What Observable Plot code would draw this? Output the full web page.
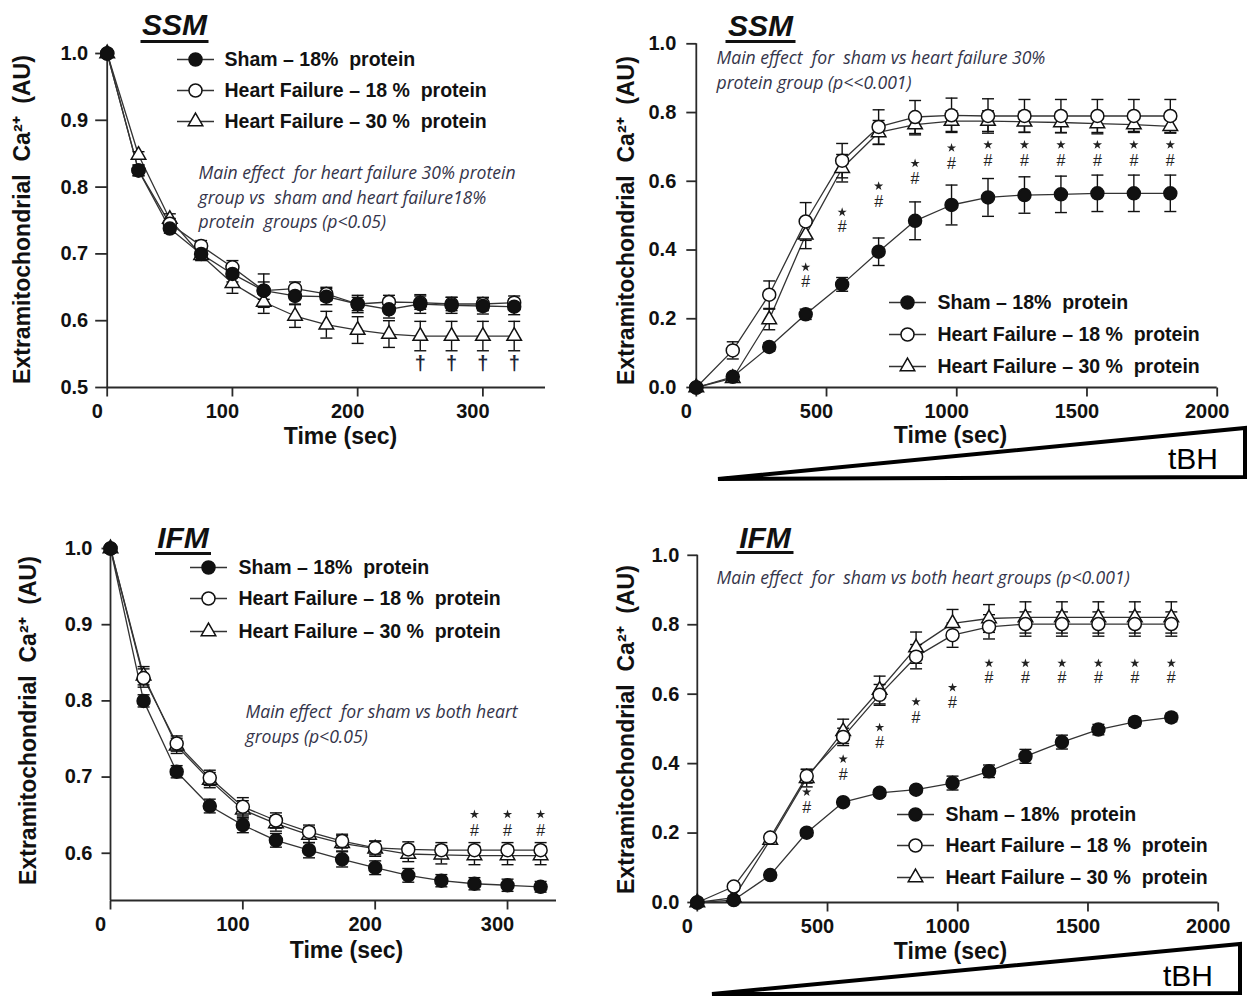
<!DOCTYPE html>
<html>
<head>
<meta charset="utf-8">
<script src="https://cdn.jsdelivr.net/npm/d3@7"></script>
<script src="https://cdn.jsdelivr.net/npm/@observablehq/plot@0.6"></script>
<style>
  body { margin: 0; background: #fff; }
  #fig { position: relative; width: 1254px; height: 999px; overflow: hidden; background: #fff; }
  #fig svg { position: absolute; overflow: visible; }
</style>
</head>
<body>
<div id="fig"></div>
<script>
// ---------------- DATA ----------------
// Time points
const decayTime  = [0, 25, 50, 75, 100, 125, 150, 175, 200, 225, 250, 275, 300, 325];
const uptakeTime = [0, 140, 280, 420, 560, 700, 840, 980, 1120, 1260, 1400, 1540, 1680, 1820];

// SSM – decay, top-left
const ssmDecaySham    = [1.000, 0.825, 0.738, 0.700, 0.670, 0.645, 0.637, 0.636, 0.625, 0.617, 0.625, 0.623, 0.622, 0.621];
const ssmDecaySham_se = [0, 0.008, 0.007, 0.008, 0.012, 0.025, 0.012, 0.012, 0.013, 0.013, 0.014, 0.012, 0.012, 0.012];
const ssmDecayHF18    = [1.000, 0.825, 0.745, 0.712, 0.680, 0.645, 0.648, 0.640, 0.625, 0.628, 0.627, 0.625, 0.625, 0.627];
const ssmDecayHF18_se = [0, 0.008, 0.008, 0.008, 0.010, 0.013, 0.010, 0.010, 0.010, 0.010, 0.010, 0.010, 0.010, 0.010];
const ssmDecayHF30    = [1.000, 0.848, 0.752, 0.698, 0.656, 0.628, 0.607, 0.594, 0.586, 0.580, 0.577, 0.577, 0.577, 0.577];
const ssmDecayHF30_se = [0, 0.005, 0.008, 0.008, 0.015, 0.017, 0.017, 0.020, 0.020, 0.020, 0.022, 0.022, 0.022, 0.022];

// IFM – decay, bottom-left
const ifmDecaySham    = [1.000, 0.800, 0.707, 0.662, 0.637, 0.617, 0.604, 0.592, 0.581, 0.571, 0.564, 0.560, 0.558, 0.556];
const ifmDecaySham_se = [0, 0.008, 0.008, 0.009, 0.010, 0.009, 0.010, 0.010, 0.009, 0.009, 0.008, 0.008, 0.008, 0.007];
const ifmDecayHF18    = [1.000, 0.830, 0.744, 0.699, 0.661, 0.643, 0.628, 0.616, 0.607, 0.605, 0.604, 0.604, 0.604, 0.604];
const ifmDecayHF18_se = [0, 0.012, 0.010, 0.010, 0.012, 0.010, 0.009, 0.009, 0.009, 0.010, 0.010, 0.010, 0.010, 0.010];
const ifmDecayHF30    = [1.000, 0.833, 0.741, 0.696, 0.657, 0.639, 0.624, 0.613, 0.606, 0.599, 0.598, 0.597, 0.597, 0.597];
const ifmDecayHF30_se = [0, 0.012, 0.010, 0.010, 0.012, 0.010, 0.010, 0.010, 0.010, 0.010, 0.012, 0.012, 0.012, 0.012];

// SSM – tBH release, top-right
const ssmRelSham    = [0, 0.031, 0.118, 0.213, 0.300, 0.395, 0.485, 0.531, 0.553, 0.560, 0.562, 0.565, 0.565, 0.565];
const ssmRelSham_se = [0, 0.010, 0.012, 0.015, 0.020, 0.040, 0.055, 0.058, 0.055, 0.053, 0.053, 0.053, 0.053, 0.053];
const ssmRelHF18    = [0, 0.108, 0.270, 0.483, 0.660, 0.758, 0.787, 0.792, 0.790, 0.790, 0.790, 0.790, 0.790, 0.790];
const ssmRelHF18_se = [0, 0.025, 0.040, 0.055, 0.050, 0.050, 0.048, 0.050, 0.050, 0.048, 0.048, 0.048, 0.048, 0.048];
const ssmRelHF30    = [0, 0.027, 0.198, 0.444, 0.638, 0.742, 0.765, 0.775, 0.775, 0.773, 0.771, 0.768, 0.765, 0.760];
const ssmRelHF30_se = [0, 0.010, 0.030, 0.040, 0.040, 0.035, 0.030, 0.030, 0.030, 0.030, 0.030, 0.030, 0.020, 0.020];

// IFM – tBH release, bottom-right
const ifmRelSham    = [0, 0.007, 0.079, 0.201, 0.289, 0.316, 0.325, 0.344, 0.378, 0.421, 0.462, 0.498, 0.520, 0.533];
const ifmRelSham_se = [0, 0.005, 0.008, 0.010, 0.010, 0.010, 0.010, 0.020, 0.018, 0.020, 0.020, 0.015, 0.012, 0.012];
const ifmRelHF18    = [0, 0.046, 0.187, 0.364, 0.477, 0.598, 0.708, 0.770, 0.794, 0.802, 0.802, 0.802, 0.802, 0.802];
const ifmRelHF18_se = [0, 0.010, 0.010, 0.020, 0.025, 0.030, 0.035, 0.035, 0.035, 0.035, 0.035, 0.035, 0.035, 0.035];
const ifmRelHF30    = [0, 0.014, 0.180, 0.358, 0.493, 0.612, 0.734, 0.804, 0.818, 0.821, 0.821, 0.821, 0.821, 0.821];
const ifmRelHF30_se = [0, 0.005, 0.010, 0.025, 0.035, 0.040, 0.045, 0.040, 0.040, 0.045, 0.045, 0.045, 0.045, 0.045];

// Significance markers
const ssmDaggerTime = [250, 275, 300, 325];
const ssmDaggerY    = [0.536, 0.536, 0.536, 0.536];
const ssmSigTime = [420, 560, 700, 840, 980, 1120, 1260, 1400, 1540, 1680, 1820];
const ssmStarY   = [0.350, 0.510, 0.586, 0.652, 0.697, 0.706, 0.706, 0.706, 0.706, 0.706, 0.706];
const ssmHashY   = [0.308, 0.467, 0.540, 0.607, 0.652, 0.660, 0.660, 0.660, 0.660, 0.660, 0.660];
const ifmDecaySigTime = [275, 300, 325];
const ifmDecayStarY   = [0.651, 0.651, 0.651];
const ifmDecayHashY   = [0.630, 0.630, 0.630];
const ifmSigTime = [420, 560, 700, 840, 980, 1120, 1260, 1400, 1540, 1680, 1820];
const ifmStarY   = [0.318, 0.413, 0.504, 0.578, 0.619, 0.689, 0.689, 0.689, 0.689, 0.689, 0.689];
const ifmHashY   = [0.272, 0.368, 0.459, 0.531, 0.574, 0.646, 0.646, 0.646, 0.646, 0.646, 0.646];

// Tick values
const decayXTicks = [0, 100, 200, 300];
const uptakeXTicks = [0, 500, 1000, 1500, 2000];
const ssmDecayYTicks = [0.5, 0.6, 0.7, 0.8, 0.9, 1.0];
const ifmDecayYTicks = [0.6, 0.7, 0.8, 0.9, 1.0];
const uptakeYTicks = [0, 0.2, 0.4, 0.6, 0.8, 1.0];

// Text
const legendLabels = ["Sham – 18%\u00a0 protein", "Heart Failure – 18 %\u00a0 protein", "Heart Failure – 30 %\u00a0 protein"];
const yTitle = "Extramitochondrial\u00a0 Ca²⁺\u00a0 (AU)";
const xTitle = "Time (sec)";
const note1 = "Main effect\u00a0 for heart failure 30% protein\ngroup vs\u00a0 sham and heart failure18%\nprotein\u00a0 groups (p<0.05)";
const note2 = "Main effect\u00a0 for\u00a0 sham vs heart failure 30%\nprotein group (p<<0.001)";
const note3 = "Main effect\u00a0 for sham vs both heart\ngroups (p<0.05)";
const note4 = "Main effect\u00a0 for\u00a0 sham vs both heart groups (p<0.001)";

// ---------------- STYLE ----------------
const AX = "#2a2a2a";
const INK = "#111";
const SANS = "'Liberation Sans', Arial, Helvetica, sans-serif";
const NOTEFONT = "'Open Sans', 'Noto Sans', Lato, sans-serif";
const seriesStyle = {
  hf30: {symbol: "triangle", r: 5.4, fill: "white", stroke: INK},
  hf18: {symbol: "circle", r: 6.5, fill: "white", stroke: INK},
  sham: {symbol: "circle", r: 6.5, fill: INK, stroke: INK}
};
const legendOrder = ["sham", "hf18", "hf30"];
const drawOrder = ["hf30", "hf18", "sham"];

const hLine = (w) => ({draw(ctx) { ctx.moveTo(-w / 2, 0); ctx.lineTo(w / 2, 0); }});
const vTickDown = (len) => ({draw(ctx) { ctx.moveTo(0, 0); ctx.lineTo(0, len); }});
const hTickLeft = (len) => ({draw(ctx) { ctx.moveTo(-len, 0); ctx.lineTo(0, 0); }});

// ---------------- PANELS ----------------
const panels = [
  {
    left: 0, top: 0, width: 560, height: 450,
    frame: [106.7, 545, 53, 387], xDomain: [0, 350], yDomain: [0.5, 1.0],
    time: decayTime, xTicks: decayXTicks, yTicks: ssmDecayYTicks, yTickLen: 12, yLabelGap: 19,
    series: {sham: [ssmDecaySham, ssmDecaySham_se], hf18: [ssmDecayHF18, ssmDecayHF18_se], hf30: [ssmDecayHF30, ssmDecayHF30_se]},
    title: "SSM", titlePos: [174, 25], titleUnder: [174, 41, 68],
    legend: {mx: 195, tx: 224, ys: [59, 90, 121]},
    note: note1, notePos: [198, 195],
    xTitlePos: [340, 436], yTitlePos: [22, 219],
    marks: "dagger"
  },
  {
    left: 640, top: 0, width: 614, height: 499,
    frame: [695.8, 1216.7, 43.3, 387], xDomain: [0, 2000], yDomain: [0, 1],
    time: uptakeTime, xTicks: uptakeXTicks, yTicks: uptakeYTicks, yTickLen: 10, yLabelGap: 20,
    series: {sham: [ssmRelSham, ssmRelSham_se], hf18: [ssmRelHF18, ssmRelHF18_se], hf30: [ssmRelHF30, ssmRelHF30_se]},
    title: "SSM", titlePos: [760, 26], titleUnder: [760, 41, 70],
    legend: {mx: 907, tx: 937, ys: [302, 334, 366]},
    note: note2, notePos: [716, 68],
    xTitlePos: [950, 435], yTitlePos: [626, 220],
    sig: [ssmSigTime, ssmStarY, ssmHashY],
    wedge: [[718, 479], [1245, 428], [1245, 477]], wedgeText: [1193, 458]
  },
  {
    left: 0, top: 500, width: 560, height: 499,
    frame: [110, 556, 548, 900], xDomain: [0, 337], yDomain: [0.538, 1.0],
    time: decayTime, xTicks: decayXTicks, yTicks: ifmDecayYTicks, yTickLen: 9, yLabelGap: 18,
    series: {sham: [ifmDecaySham, ifmDecaySham_se], hf18: [ifmDecayHF18, ifmDecayHF18_se], hf30: [ifmDecayHF30, ifmDecayHF30_se]},
    title: "IFM", titlePos: [182.5, 538], titleUnder: [182.5, 553, 56],
    legend: {mx: 208, tx: 238, ys: [567, 598, 631]},
    note: note3, notePos: [245, 722],
    xTitlePos: [346, 950], yTitlePos: [28, 720],
    sig: [ifmDecaySigTime, ifmDecayStarY, ifmDecayHashY]
  },
  {
    left: 640, top: 500, width: 614, height: 499,
    frame: [696.8, 1217.7, 554.8, 902], xDomain: [0, 2000], yDomain: [0, 1],
    time: uptakeTime, xTicks: uptakeXTicks, yTicks: uptakeYTicks, yTickLen: 10, yLabelGap: 18,
    series: {sham: [ifmRelSham, ifmRelSham_se], hf18: [ifmRelHF18, ifmRelHF18_se], hf30: [ifmRelHF30, ifmRelHF30_se]},
    title: "IFM", titlePos: [764.5, 538], titleUnder: [764.5, 552, 57],
    legend: {mx: 915, tx: 945, ys: [814, 845, 877]},
    note: note4, notePos: [716, 575],
    xTitlePos: [950, 951], yTitlePos: [626, 729],
    sig: [ifmSigTime, ifmStarY, ifmHashY],
    wedge: [[712, 994], [1240, 944], [1240, 993]], wedgeText: [1188, 975]
  }
];

function makePanel(p) {
  const [fL, fR, fT, fB] = p.frame;
  const at = (gx, gy) => ({frameAnchor: "top-left", dx: gx - fL, dy: gy - fT});
  const x0 = p.xDomain[0], y0 = p.yDomain[0];
  const rows = (k) => p.time.map((t, i) => ({t, v: p.series[k][0][i], e: p.series[k][1][i]}));
  const marks = [];

  // axes
  marks.push(Plot.ruleX([x0], {x: (d) => d, stroke: AX, strokeWidth: 1.8}));
  marks.push(Plot.ruleY([y0], {y: (d) => d, stroke: AX, strokeWidth: 1.8}));
  marks.push(Plot.dot(p.xTicks, {x: (d) => d, y: () => y0, symbol: vTickDown(9), stroke: AX, strokeWidth: 1.8, fill: "none"}));
  marks.push(Plot.dot(p.yTicks, {x: () => x0, y: (d) => d, symbol: hTickLeft(p.yTickLen), stroke: AX, strokeWidth: 1.8, fill: "none"}));
  marks.push(Plot.text(p.xTicks, {x: (d) => d, y: () => y0, dx: -10, dy: 24, text: (d) => String(d),
    fontSize: 20, fontWeight: "bold", fill: INK, lineAnchor: "middle"}));
  marks.push(Plot.text(p.yTicks, {x: () => x0, y: (d) => d, dx: -p.yLabelGap, text: (d) => d.toFixed(1),
    textAnchor: "end", fontSize: 20, fontWeight: "bold", fill: INK, lineAnchor: "middle"}));

  // connecting lines
  for (const k of drawOrder) {
    marks.push(Plot.line(rows(k), {x: "t", y: "v", stroke: "#333", strokeWidth: 1.3}));
  }
  // error bars
  for (const k of drawOrder) {
    const r = rows(k).filter((d) => d.e > 0);
    marks.push(Plot.ruleX(r, {x: "t", y1: (d) => d.v - d.e, y2: (d) => d.v + d.e, stroke: INK, strokeWidth: 1.4}));
    marks.push(Plot.dot(r, {x: "t", y: (d) => d.v + d.e, symbol: hLine(12), stroke: INK, strokeWidth: 1.4, fill: "none"}));
    marks.push(Plot.dot(r, {x: "t", y: (d) => d.v - d.e, symbol: hLine(12), stroke: INK, strokeWidth: 1.4, fill: "none"}));
  }
  // markers
  for (const k of drawOrder) {
    const s = seriesStyle[k];
    marks.push(Plot.dot(rows(k), {x: "t", y: "v", symbol: s.symbol, r: s.r, fill: s.fill, stroke: s.stroke, strokeWidth: 1.5}));
  }

  // significance symbols
  if (p.marks === "dagger") {
    marks.push(Plot.text(ssmDaggerTime.map((t, i) => ({t, y: ssmDaggerY[i]})), {x: "t", y: "y", text: () => "†",
      fontSize: 20, fontWeight: "bold", fill: "#1c2436", lineAnchor: "middle"}));
  }
  if (p.sig) {
    const [ts, ss, hs] = p.sig;
    const sr = ts.map((t, i) => ({t, s: ss[i], h: hs[i]}));
    marks.push(Plot.dot(sr, {x: "t", y: "s", symbol: "star", r: 2.9, fill: "#222", stroke: "none"}));
    marks.push(Plot.text(sr, {x: "t", y: "h", text: () => "#", fontSize: 16, fill: "#222", lineAnchor: "middle"}));
  }

  // title with underline
  marks.push(Plot.text([p.title], {...at(p.titlePos[0], p.titlePos[1]), text: (d) => d, fontSize: 30, fontWeight: "bold",
    fontStyle: "italic", fill: INK, textAnchor: "middle", lineAnchor: "middle"}));
  marks.push(Plot.dot([0], {...at(p.titleUnder[0], p.titleUnder[1]), symbol: hLine(p.titleUnder[2]), stroke: INK, strokeWidth: 3, fill: "none"}));

  // legend
  legendOrder.forEach((k, i) => {
    const s = seriesStyle[k];
    const y = p.legend.ys[i];
    marks.push(Plot.dot([0], {...at(p.legend.mx, y), symbol: hLine(37), stroke: "#333", strokeWidth: 1.5, fill: "none"}));
    marks.push(Plot.dot([0], {...at(p.legend.mx, y), symbol: s.symbol, r: s.r, fill: s.fill, stroke: s.stroke, strokeWidth: 1.5}));
    marks.push(Plot.text([legendLabels[i]], {...at(p.legend.tx, y), text: (d) => d, textAnchor: "start", lineAnchor: "middle",
      fontSize: 19.5, fontWeight: "bold", fill: INK}));
  });

  // italic note
  marks.push(Plot.text([p.note], {...at(p.notePos[0], p.notePos[1]), text: (d) => d, textAnchor: "start", lineAnchor: "middle",
    lineHeight: 1.42, fontSize: 17.6, fontStyle: "italic", fontFamily: NOTEFONT, fill: "#34344a"}));

  // axis titles
  marks.push(Plot.text([xTitle], {...at(p.xTitlePos[0], p.xTitlePos[1]), text: (d) => d, textAnchor: "middle", lineAnchor: "middle",
    fontSize: 23, fontWeight: "bold", fill: INK}));
  marks.push(Plot.text([yTitle], {...at(p.yTitlePos[0], p.yTitlePos[1]), text: (d) => d, textAnchor: "middle", lineAnchor: "middle",
    rotate: -90, fontSize: 23, fontWeight: "bold", fill: INK}));

  const svg = Plot.plot({
    width: p.width, height: p.height,
    marginLeft: fL - p.left, marginRight: p.left + p.width - fR,
    marginTop: fT - p.top, marginBottom: p.top + p.height - fB,
    x: {type: "linear", domain: p.xDomain, axis: null},
    y: {type: "linear", domain: p.yDomain, axis: null},
    style: {fontFamily: SANS, background: "transparent", color: INK, overflow: "visible"},
    marks
  });
  svg.style.left = p.left + "px";
  svg.style.top = p.top + "px";

  // tBH wedge (decoration)
  if (p.wedge) {
    const pts = p.wedge.map(([x, y]) => [x - p.left, y - p.top]);
    const g = d3.select(svg).append("g");
    g.append("path")
      .attr("d", "M" + pts.map((q) => q.join(",")).join("L") + "Z")
      .attr("fill", "white").attr("stroke", "#000").attr("stroke-width", 4).attr("stroke-linejoin", "miter");
    g.append("text")
      .attr("x", p.wedgeText[0] - p.left).attr("y", p.wedgeText[1] - p.top)
      .attr("dy", "0.35em").attr("text-anchor", "middle")
      .attr("font-family", SANS).attr("font-size", 30).attr("fill", "#000")
      .text("tBH");
  }
  return svg;
}

const fig = document.getElementById("fig");
for (const p of panels) fig.appendChild(makePanel(p));
</script>
</body>
</html>
